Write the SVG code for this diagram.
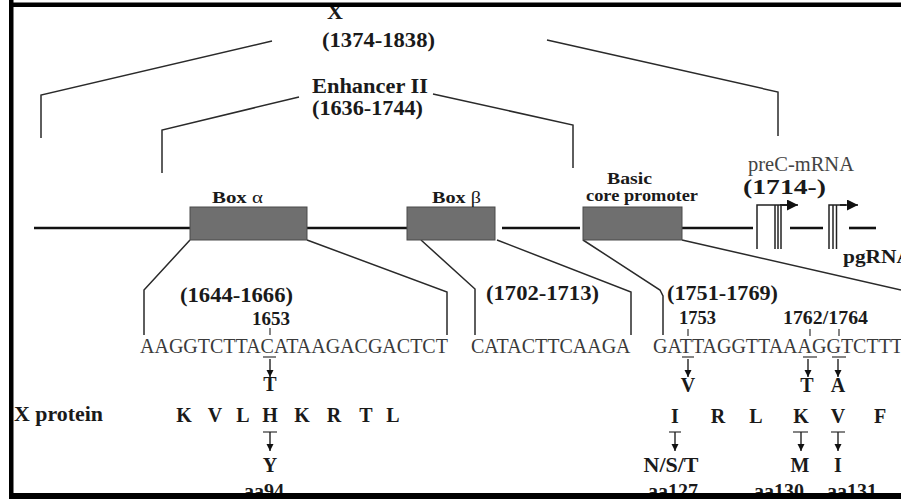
<svg xmlns="http://www.w3.org/2000/svg" width="901" height="499" viewBox="0 0 901 499">
<style>
text{font-family:"Liberation Serif","Times New Roman",serif}
.b{font-weight:bold;fill:#1a1a1a}
.lbl{font-size:20.5px}
.sm{font-size:17px}
.num{font-size:18.5px}
.aa{font-size:20px;text-anchor:middle}
.seq{font-size:20px;fill:#3a3a3a}
.ln{stroke:#2a2a2a;stroke-width:1.5;fill:none}
.dna{stroke:#111;stroke-width:2.6}
.box{fill:#6f6f6f;stroke:#4a4a4a;stroke-width:1}
.tk{stroke:#333;stroke-width:1.2}
.ar{stroke:#222;stroke-width:1.4;marker-end:url(#ah)}
.tr{stroke:#222;stroke-width:1.5;fill:none}
</style>
<defs>
<marker id="ah" viewBox="0 0 10 10" refX="10" refY="5" markerWidth="7" markerHeight="8" orient="auto" markerUnits="userSpaceOnUse"><path d="M0,0 L10,5 L0,10 z" fill="#111"/></marker>
<marker id="ht" viewBox="0 0 10 10" refX="10" refY="5" markerWidth="12" markerHeight="11" orient="auto" markerUnits="userSpaceOnUse"><path d="M0,0 L10,5 L0,10 z" fill="#111"/></marker>
</defs>
<rect width="901" height="499" fill="#fff"/>

<g id="connectors">
<polyline class="ln" points="41,138 41,95 272,41"/>
<polyline class="ln" points="547,40 778,92 778,136"/>
<polyline class="ln" points="162,173 162,130 299,97"/>
<polyline class="ln" points="433,94 573,125 573,168"/>
<polyline class="ln" points="190,240 144,290 144,335"/>
<polyline class="ln" points="307,240 447,292 447,335"/>
<polyline class="ln" points="421,240 475,289 475,335"/>
<polyline class="ln" points="497,240 631,292 631,335"/>
<polyline class="ln" points="583,240 660,290 663,296 663,335"/>
<line class="ln" x1="682" y1="240" x2="901" y2="290"/>
</g>

<g id="dna-line">
<line class="dna" x1="34" y1="228" x2="190" y2="228"/>
<line class="dna" x1="307" y1="228" x2="407" y2="228"/>
<line class="dna" x1="502" y1="228" x2="580" y2="228"/>
<line class="dna" x1="682" y1="228" x2="753" y2="228"/>
<line class="dna" x1="790" y1="228" x2="823" y2="228"/>
<line class="dna" x1="849" y1="228" x2="876" y2="228"/>
</g>

<g id="region-x">
<text class="b" font-size="22" x="335" y="19" text-anchor="middle">X</text>
<text class="b lbl" x="322" y="47" textLength="113" lengthAdjust="spacingAndGlyphs">(1374-1838)</text>
</g>
<g id="enhancer-ii">
<text class="b lbl" x="312" y="93" textLength="116" lengthAdjust="spacingAndGlyphs">Enhancer II</text>
<text class="b lbl" x="312" y="115" textLength="111" lengthAdjust="spacingAndGlyphs">(1636-1744)</text>
</g>

<g id="box-alpha">
<rect class="box" x="190" y="207" width="117" height="33"/>
<text class="b sm" x="212" y="203" textLength="51" lengthAdjust="spacingAndGlyphs">Box <tspan font-weight="normal">α</tspan></text>
</g>
<g id="box-beta">
<rect class="box" x="407" y="207" width="88" height="33"/>
<text class="b sm" x="432" y="203" textLength="49" lengthAdjust="spacingAndGlyphs">Box <tspan font-weight="normal">β</tspan></text>
</g>
<g id="basic-core-promoter">
<rect class="box" x="583" y="207" width="99" height="33"/>
<text class="b sm" x="607" y="184" textLength="45" lengthAdjust="spacingAndGlyphs">Basic</text>
<text class="b sm" x="586" y="201" textLength="112" lengthAdjust="spacingAndGlyphs">core promoter</text>
</g>

<g id="precore-mrna">
<text x="748" y="171" font-size="20" fill="#444" textLength="106" lengthAdjust="spacingAndGlyphs">preC-mRNA</text>
<text class="b" x="743" y="194" font-size="21" textLength="83" lengthAdjust="spacingAndGlyphs">(1714-)</text>
<polyline class="tr" points="757,249 757,205 787,205"/>
<line stroke="#111" stroke-width="1.5" x1="780" y1="205" x2="798" y2="205" marker-end="url(#ht)"/>
<line class="tr" x1="775" y1="205" x2="775" y2="249"/>
<line class="tr" x1="778" y1="205" x2="778" y2="249"/>
<line class="tr" x1="781" y1="205" x2="781" y2="249"/>
</g>
<g id="pgrna">
<polyline class="tr" points="829,249 829,205 846,205"/>
<line stroke="#111" stroke-width="1.5" x1="840" y1="205" x2="858" y2="205" marker-end="url(#ht)"/>
<line class="tr" x1="833" y1="205" x2="833" y2="249"/>
<line class="tr" x1="836.5" y1="205" x2="836.5" y2="249"/>
<text class="b" x="843" y="263" font-size="18" textLength="69" lengthAdjust="spacingAndGlyphs">pgRNA</text>
</g>

<g id="seq-box-alpha">
<text class="b lbl" x="180" y="302" textLength="113" lengthAdjust="spacingAndGlyphs">(1644-1666)</text>
<text class="b num" x="252" y="325" textLength="38" lengthAdjust="spacingAndGlyphs">1653</text>
<line class="tk" x1="270" y1="328" x2="270" y2="335"/>
<text class="seq" x="140" y="353">AAGGTCTTACATAAGACGACTCT</text>
<line class="tk" x1="263" y1="357" x2="276" y2="357"/>
<line class="ar" x1="270" y1="359" x2="270" y2="377"/>
<text class="b aa" x="270" y="391">T</text>
</g>

<g id="seq-box-beta">
<text class="b lbl" x="486" y="300" textLength="113" lengthAdjust="spacingAndGlyphs">(1702-1713)</text>
<text class="seq" x="471" y="353">CATACTTCAAGA</text>
</g>

<g id="seq-bcp">
<text class="b lbl" x="667" y="300" textLength="111" lengthAdjust="spacingAndGlyphs">(1751-1769)</text>
<text class="b num" x="679" y="324" textLength="37" lengthAdjust="spacingAndGlyphs">1753</text>
<text class="b num" x="783" y="324" textLength="85" lengthAdjust="spacingAndGlyphs">1762/1764</text>
<line class="tk" x1="688" y1="329" x2="688" y2="336"/>
<line class="tk" x1="810" y1="329" x2="810" y2="336"/>
<line class="tk" x1="839" y1="329" x2="839" y2="336"/>
<text class="seq" x="653" y="353">GATTAGGTTAAAGGTCTTT</text>
<line class="tk" x1="682" y1="357" x2="694" y2="357"/>
<line class="tk" x1="803" y1="357" x2="817" y2="357"/>
<line class="tk" x1="832" y1="357" x2="846" y2="357"/>
<line class="ar" x1="688" y1="359" x2="688" y2="377"/>
<line class="ar" x1="808" y1="359" x2="808" y2="377"/>
<line class="ar" x1="838" y1="359" x2="838" y2="377"/>
<text class="b aa" x="688" y="392">V</text>
<text class="b aa" x="807" y="392">T</text>
<text class="b aa" x="838" y="392">A</text>
</g>

<g id="x-protein-left">
<text class="b lbl" x="14" y="421" textLength="89" lengthAdjust="spacingAndGlyphs">X protein</text>
<text class="b aa" x="184" y="422">K</text>
<text class="b aa" x="215" y="422">V</text>
<text class="b aa" x="243" y="422">L</text>
<text class="b aa" x="270" y="422">H</text>
<text class="b aa" x="302" y="422">K</text>
<text class="b aa" x="334" y="422">R</text>
<text class="b aa" x="366" y="422">T</text>
<text class="b aa" x="393" y="422">L</text>
<line class="tk" x1="263" y1="432" x2="277" y2="432"/>
<line class="ar" x1="270" y1="432" x2="270" y2="451"/>
<text class="b aa" x="270" y="472">Y</text>
<text class="b aa" x="264" y="498">aa94</text>
</g>

<g id="x-protein-right">
<text class="b aa" x="675" y="423">I</text>
<text class="b aa" x="718" y="423">R</text>
<text class="b aa" x="756" y="423">L</text>
<text class="b aa" x="801" y="423">K</text>
<text class="b aa" x="838" y="423">V</text>
<text class="b aa" x="880" y="423">F</text>
<line class="tk" x1="669" y1="432" x2="681" y2="432"/>
<line class="tk" x1="793" y1="432" x2="808" y2="432"/>
<line class="tk" x1="831" y1="432" x2="845" y2="432"/>
<line class="ar" x1="675" y1="432" x2="675" y2="451"/>
<line class="ar" x1="801" y1="432" x2="801" y2="451"/>
<line class="ar" x1="838" y1="432" x2="838" y2="451"/>
<text class="b aa" x="671" y="472" textLength="55" lengthAdjust="spacingAndGlyphs">N/S/T</text>
<text class="b aa" x="800" y="472">M</text>
<text class="b aa" x="838" y="472">I</text>
<text class="b aa" x="673" y="498">aa127</text>
<text class="b aa" x="779" y="498">aa130</text>
<text class="b aa" x="852" y="498">aa131</text>
</g>

<g id="frame" fill="#000">
<rect x="9" y="0" width="4.5" height="498"/>
<rect x="9" y="2.5" width="892" height="4.5"/>
<rect x="9" y="493" width="892" height="6"/>
</g>
</svg>
